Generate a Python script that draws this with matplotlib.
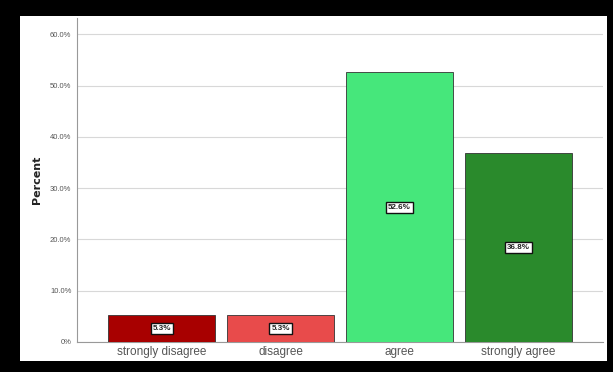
import matplotlib

matplotlib.use("Agg")
import matplotlib.pyplot as plt
from matplotlib.patches import Rectangle
from matplotlib.ticker import FuncFormatter

categories = ["strongly disagree", "disagree", "agree", "strongly agree"]
percent = [5.3, 5.3, 52.6, 36.8]
colors = ["#a80000", "#e84b4b", "#46e77b", "#2a8a2c"]
yticks = [0, 10, 20, 30, 40, 50, 60]

plt.rcParams["font.family"] = ["Liberation Sans Narrow", "Liberation Sans", "DejaVu Sans"]

W, H = 613, 372
fig = plt.figure(figsize=(W / 100, H / 100), dpi=100, facecolor="black")
# white panel inside the black frame
fig.patches.append(Rectangle((20 / W, 1 - 361 / H), (607 - 20) / W, (361 - 16) / H,
                             transform=fig.transFigure, facecolor="white",
                             edgecolor="none", zorder=-5))

ax = fig.add_axes([77 / W, 1 - 342 / H, (603 - 77) / W, (342 - 18) / H])
ax.set_zorder(2)
ax.set_facecolor("white")

x = range(len(categories))
ax.bar(x, percent, width=0.9, color=colors, edgecolor="#333333", linewidth=0.6, zorder=3)
for i, v in enumerate(percent):
    ax.text(i, v / 2, f"{v:.1f}%", ha="center", va="center", fontsize=5.8,
            fontweight="bold", color="#222222", zorder=4,
            bbox=dict(boxstyle="square,pad=0.25", facecolor="white",
                      edgecolor="#111111", linewidth=1.0))

ax.set_xlim(-0.715, 3.715)
ax.set_ylim(0, 63.2)
ax.set_yticks(yticks)
ax.yaxis.set_major_formatter(FuncFormatter(lambda v, _: "0%" if v == 0 else f"{v:.1f}%"))
ax.set_xticks(list(x))
ax.set_xticklabels(categories)
ax.tick_params(axis="y", length=0, labelsize=5.5, labelcolor="#555555", pad=4)
ax.tick_params(axis="x", length=0, labelsize=8.5, labelcolor="#555555", pad=3)
ax.grid(axis="y", color="#d8d8d8", linewidth=0.8, zorder=0)
ax.set_axisbelow(True)

for s in ("top", "right"):
    ax.spines[s].set_visible(False)
for s in ("left", "bottom"):
    ax.spines[s].set_color("#999999")
    ax.spines[s].set_linewidth(0.8)

ax.set_ylabel("Percent", fontsize=8, fontweight="bold", color="#222222",
              family="DejaVu Sans")
ax.yaxis.set_label_coords(-0.066, 0.5)

fig.savefig("out.png", dpi=100, facecolor="black")
